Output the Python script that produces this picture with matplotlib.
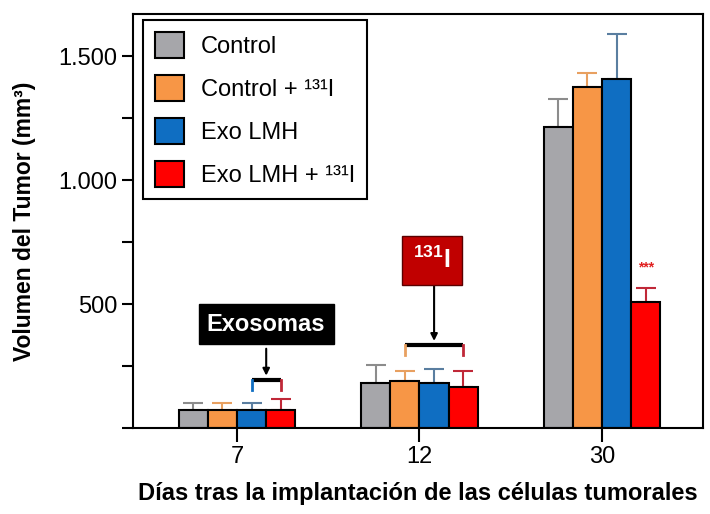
import matplotlib
matplotlib.use('Agg')
import matplotlib.pyplot as plt
import numpy as np

plt.rcParams['font.family'] = ['Liberation Sans', 'DejaVu Sans']
plt.rcParams['mathtext.fontset'] = 'custom'
plt.rcParams['mathtext.rm'] = 'Liberation Sans'
plt.rcParams['mathtext.bf'] = 'Liberation Sans:bold'

# datos
dias = ['7', '12', '30']
grupos = ['Control', 'Control + ¹³¹I', 'Exo LMH', 'Exo LMH + ¹³¹I']
control = [73, 181, 1214]
control_i = [73, 190, 1375]
exo = [73, 181, 1407]
exo_i = [73, 165, 508]
err_control = [27, 73, 113]
err_control_i = [27, 40, 56]
err_exo = [27, 57, 182]
err_exo_i = [44, 65, 57]

valores = [control, control_i, exo, exo_i]
errores = [err_control, err_control_i, err_exo, err_exo_i]
colores = ['#a6a6aa', '#f79646', '#0f6ec2', '#ff0000']
col_err = ['#8c8c8c', '#e8a060', '#5a7ea0', '#c02838']

fig = plt.figure(figsize=(7.1, 5.14), dpi=100)
ax = fig.add_axes([0.1873, 0.1673, 0.8027, 0.8055])

x = np.arange(len(dias))
w = 0.16
for i in range(4):
    pos = x + (i - 1.5) * w
    ax.bar(pos, valores[i], w, color=colores[i], edgecolor='black', linewidth=1.5,
           label=grupos[i], zorder=2)
    ax.errorbar(pos, valores[i], yerr=[np.zeros(3), errores[i]], fmt='none',
                ecolor=col_err[i], elinewidth=1.5, capsize=7, capthick=1.5, zorder=1)

ax.set_xlim(-0.57, 2.553)
ax.set_ylim(0, 1670)
ax.set_xticks(x)
ax.set_xticklabels(dias, fontsize=17)
ax.set_yticks([500, 1000, 1500])
ax.set_yticklabels(['500', '1.000', '1.500'], fontsize=17)
ax.set_yticks([0, 250, 750, 1250], minor=True)
ax.tick_params(axis='y', which='both', length=8, width=1.5, direction='out', pad=3)
ax.tick_params(axis='x', length=10, width=1.5, direction='out', pad=3)
for s in ax.spines.values():
    s.set_linewidth(1.5)

ax.set_ylabel('Volumen del Tumor (mm³)', fontsize=16.5, fontweight='bold', labelpad=16)
ax.set_xlabel('Días tras la implantación de las células tumorales', fontsize=17,
              fontweight='bold', labelpad=10)

leg = ax.legend(loc='upper left', bbox_to_anchor=(0.0175, 0.9855), fontsize=17,
                frameon=True, fancybox=False, edgecolor='black', framealpha=1,
                handlelength=1.25, handleheight=1.35, labelspacing=0.7,
                borderpad=0.5, handletextpad=0.7, borderaxespad=0)
leg.get_frame().set_linewidth(1.5)
for h in leg.legend_handles:
    h.set_linewidth(1.5)

# anotaciones
ax.text(0.159, 419, 'Exosomas', ha='center', va='center', color='white',
        fontsize=17, fontweight='bold',
        bbox=dict(boxstyle='square,pad=0.35', fc='black', ec='black'), zorder=5)
ax.annotate('', xy=(0.16, 200), xytext=(0.16, 331),
            arrowprops=dict(arrowstyle='-|>', color='black', lw=1.5, mutation_scale=10))
ax.plot([0.08, 0.24], [194, 194], color='black', lw=3, solid_capstyle='butt', zorder=4)
ax.plot([0.08, 0.08], [194, 153], color=colores[2], lw=2, zorder=4)
ax.plot([0.24, 0.24], [194, 153], color='#c02838', lw=2, zorder=4)

ax.text(1.068, 677, r'$\mathbf{^{131}I}$', ha='center', va='center', color='white',
        fontsize=18,
        bbox=dict(boxstyle='square,pad=0.45', fc='#c00000', ec='#5a0000'), zorder=5)
ax.annotate('', xy=(1.08, 340), xytext=(1.08, 585),
            arrowprops=dict(arrowstyle='-|>', color='black', lw=1.5, mutation_scale=10))
ax.plot([0.92, 1.24], [335, 335], color='black', lw=3, solid_capstyle='butt', zorder=4)
ax.plot([0.92, 0.92], [335, 294], color='#e8a060', lw=2, zorder=4)
ax.plot([1.24, 1.24], [335, 294], color='#c02838', lw=2, zorder=4)

ax.text(2.24, 649, '***', ha='center', va='center', color='#e02020', fontsize=10,
        fontweight='bold')

fig.savefig('out.png', dpi=100)
